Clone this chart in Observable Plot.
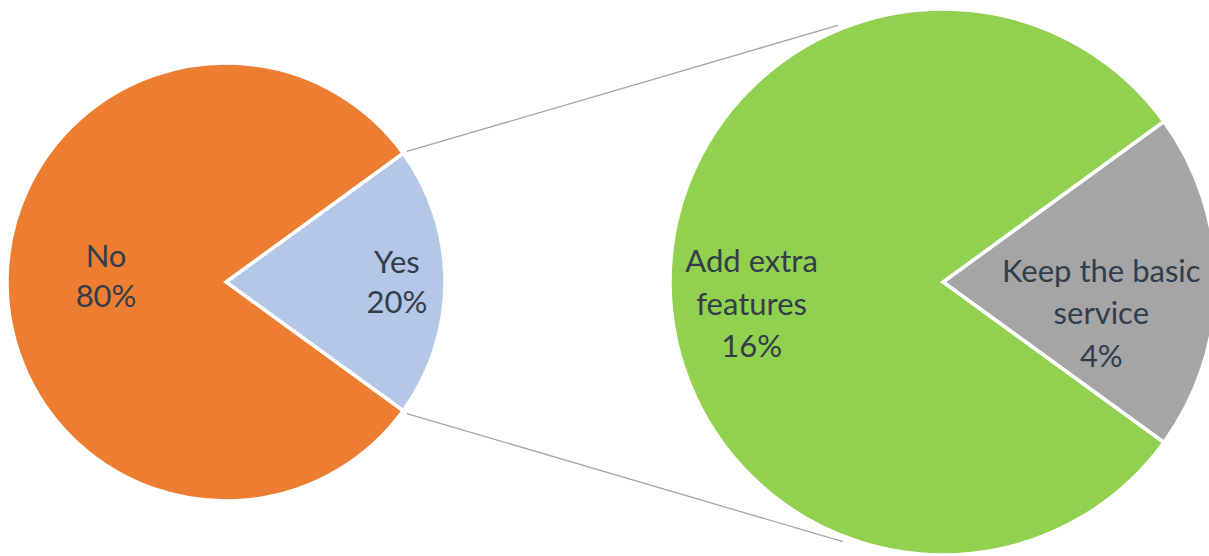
<!DOCTYPE html>
<html><head><meta charset="utf-8">
<script src="https://cdn.jsdelivr.net/npm/d3@7"></script>
<script src="https://cdn.jsdelivr.net/npm/@observablehq/plot@0.6"></script>
<style>html,body{margin:0;padding:0;background:#fff;overflow:hidden}</style>
</head><body><div id="chart"></div>
<script>
// ---- data ----
const mainCategories = ["Yes", "No"];
const mainValues = [20, 80];
const mainLabels = ["Yes\n20%", "No\n80%"];
const subCategories = ["Keep the basic service", "Add extra features"];
const subValues = [4, 16];
const subLabels = ["Keep the basic\nservice\n4%", "Add extra\nfeatures\n16%"];

// ---- styles / layout ----
const mainColors = ["#B4C7E7", "#ED7D31"];
const subColors = ["#A5A5A5", "#92D050"];
const W = 1209, H = 556;
const leftPie = {cx: 226, cy: 282, r: 219};
const rightPie = {cx: 943, cy: 282, r: 273};
const mainLabelRadius = [0.778, 0.55];
const mainLabelBaseline = [30.7, 24.7];
const subLabelRadius = [0.578, 0.703];
const subLabelBaseline = [84, 74.7];
const fontFamily = "Lato, 'Open Sans', sans-serif";
const fontSize = 31;
const textColor = "#333d4a";

function pieArcs(values) {
  const total = d3.sum(values);
  const start = Math.PI / 2 - (values[0] / total) * Math.PI; // first slice centered at 3 o'clock
  return d3.pie().sort(null).value(d => d).startAngle(start).endAngle(start + 2 * Math.PI)(values);
}
const mainArcs = pieArcs(mainValues);
const subArcs = pieArcs(subValues);

function pieMark(arcs, colors, geo) {
  return (index, scales) => {
    const cx = scales.x(geo.cx), cy = scales.y(geo.cy);
    const r = scales.x(geo.cx + geo.r) - cx;
    const arc = d3.arc().innerRadius(0).outerRadius(r);
    const g = d3.create("svg:g").attr("transform", `translate(${cx},${cy})`);
    g.selectAll("path").data(arcs).join("path")
      .attr("d", arc)
      .attr("fill", (d, i) => colors[i])
      .attr("stroke", "#fff")
      .attr("stroke-width", 3.5)
      .attr("stroke-linejoin", "miter");
    return g.node();
  };
}

function labelRows(arcs, labels, geo, radius, baseline) {
  return arcs.map((a, i) => {
    const mid = (a.startAngle + a.endAngle) / 2;
    return {
      text: labels[i],
      x: geo.cx + radius[i] * geo.r * Math.sin(mid),
      y: geo.cy + baseline[i]
    };
  });
}
const mainLabelData = labelRows(mainArcs, mainLabels, leftPie, mainLabelRadius, mainLabelBaseline);
const subLabelData = labelRows(subArcs, subLabels, rightPie, subLabelRadius, subLabelBaseline);

// connector lines from the "Yes" slice edges to the secondary pie
const yes = mainArcs[0];
const pt = (geo, ang, extra) => [geo.cx + (geo.r + extra) * Math.sin(ang), geo.cy - (geo.r + extra) * Math.cos(ang)];
const connectors = [
  {a: pt(leftPie, yes.startAngle, 4), b: pt(rightPie, -0.39, 5)},
  {a: pt(leftPie, yes.endAngle, 4), b: pt(rightPie, Math.PI + 0.37, 5)}
];

const chart = Plot.plot({
  width: W, height: H,
  margin: 0,
  x: {domain: [0, W], range: [0, W], axis: null},
  y: {domain: [0, H], range: [0, H], axis: null},
  style: {background: "#fff", overflow: "hidden"},
  marks: [
    Plot.link(connectors, {x1: d => d.a[0], y1: d => d.a[1], x2: d => d.b[0], y2: d => d.b[1], stroke: "#a6a6a6", strokeWidth: 1.3}),
    pieMark(mainArcs, mainColors, leftPie),
    pieMark(subArcs, subColors, rightPie),
    Plot.text(mainLabelData, {x: "x", y: "y", text: "text", lineAnchor: "bottom", lineHeight: 40 / fontSize, fontSize, fontFamily, fill: textColor, textAnchor: "middle"}),
    Plot.text(subLabelData, {x: "x", y: "y", text: "text", lineAnchor: "bottom", lineHeight: 42.5 / fontSize, fontSize, fontFamily, fill: textColor, textAnchor: "middle"})
  ]
});
document.getElementById("chart").appendChild(chart);
</script>
</body></html>
